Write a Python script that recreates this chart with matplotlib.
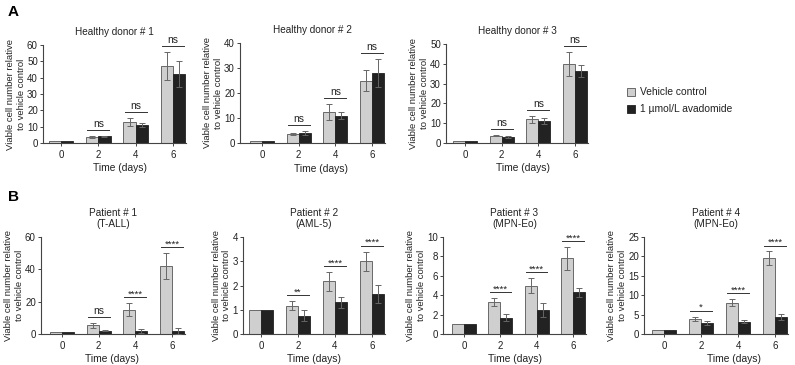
import matplotlib
matplotlib.use("Agg")
import matplotlib.pyplot as plt
import numpy as np

plt.rcParams['font.family'] = ['Liberation Sans', 'DejaVu Sans']

days = ["0", "2", "4", "6"]
titles = ["Healthy donor # 1", "Healthy donor # 2", "Healthy donor # 3",
          "Patient # 1\n(T-ALL)", "Patient # 2\n(AML-5)", "Patient # 3\n(MPN-Eo)", "Patient # 4\n(MPN-Eo)"]
y_max = [60, 40, 50, 60, 4, 10, 25]
y_step = [10, 10, 10, 20, 1, 2, 5]

veh = [[1, 3.5, 13, 47], [1, 3.7, 12.5, 25], [1, 3.7, 12, 40],
       [1, 5.5, 15, 42], [1, 1.17, 2.17, 3.0], [1, 3.3, 5.0, 7.8], [1, 3.9, 8.1, 19.6]]
veh_err = [[0, 0.5, 2.5, 8.5], [0, 0.5, 3.2, 4.2], [0, 0.3, 1.8, 6.2],
           [0, 1.5, 4.0, 8.0], [0, 0.2, 0.38, 0.4], [0, 0.38, 0.75, 1.2], [0, 0.6, 0.9, 1.7]]
ava = [[1, 4, 11, 42], [1, 3.9, 11, 28], [1, 3.0, 11, 36.5],
       [1, 2.0, 1.8, 2.0], [1, 0.75, 1.3, 1.65], [1, 1.7, 2.45, 4.3], [1, 2.8, 3.2, 4.4]]
ava_err = [[0, 0.5, 1.5, 8], [0, 0.8, 1.3, 5.5], [0, 0.3, 1.5, 3.0],
           [0, 0.3, 1.2, 1.7], [0, 0.22, 0.23, 0.37], [0, 0.35, 0.7, 0.45], [0, 0.6, 0.4, 0.8]]
sig = [["ns", "ns", "ns"], ["ns", "ns", "ns"], ["ns", "ns", "ns"],
       ["ns", "****", "****"], ["**", "****", "****"], ["****", "****", "****"], ["*", "****", "****"]]
legend_labels = ["Vehicle control", "1 \u00b5mol/L avadomide"]

W, H = 795, 365
fig = plt.figure(figsize=(W / 100, H / 100), dpi=100)

# pixel layout: (y-axis x, tick0 x, tick6 x, right end x, y0 px, ytop px, xlabel center x)
layout = [(43, 61, 173, 186, 143, 45, 120), (240, 262, 372, 385, 143, 43, 321),
          (446, 465, 575, 588, 143, 44, 523),
          (41, 62, 172, 185, 334, 237, 112), (243, 261, 372, 385, 334, 237, 314),
          (443, 464, 573, 586, 334, 237, 515), (644, 664, 775, 788, 334, 237, 734)]

c_light = "#cfcfcf"
c_dark = "#222222"
c_edge = "#555555"
fs = 6.8
bw = 0.33
axes = []

for i in range(7):
    yax, t0, t6, rx, y0, yt, xlx = layout[i]
    s = (t6 - t0) / 3.0
    xlo = -(t0 - yax) / s
    xhi = 3 + (rx - t6) / s
    ax = fig.add_axes([yax / W, 1 - y0 / H, (rx - yax) / W, (y0 - yt) / H])
    axes.append(ax)
    x = np.arange(4)
    ax.bar(x - bw / 2, veh[i], bw, color=c_light, edgecolor=c_edge, linewidth=0.6, zorder=2)
    ax.bar(x + bw / 2, ava[i], bw, color=c_dark, edgecolor=c_dark, linewidth=0.6, zorder=2)
    ve = np.array(veh_err[i]); ae = np.array(ava_err[i])
    m = ve > 0
    ax.errorbar((x - bw / 2)[m], np.array(veh[i])[m], yerr=ve[m], fmt='none', ecolor="#666666",
                elinewidth=0.7, capsize=2.5, capthick=0.7, zorder=3)
    m = ae > 0
    ax.errorbar((x + bw / 2)[m], np.array(ava[i])[m], yerr=ae[m], fmt='none', ecolor="#666666",
                elinewidth=0.7, capsize=2.5, capthick=0.7, zorder=3)
    ax.set_xlim(xlo, xhi)
    ax.set_ylim(0, y_max[i])
    ax.set_yticks(np.arange(0, y_max[i] + 1e-9, y_step[i]))
    ax.set_xticks(x)
    ax.set_xticklabels(days)
    for sp in ["top", "right"]:
        ax.spines[sp].set_visible(False)
    for sp in ["left", "bottom"]:
        ax.spines[sp].set_color("#444444")
        ax.spines[sp].set_linewidth(0.8)
    ax.tick_params(axis='both', labelsize=fs + 0.2, length=2.2, width=0.7, color="#444444",
                   pad=1.5, labelcolor="#222222")
    ax.tick_params(axis='x', pad=2.5)
    ax.set_xlabel("Time (days)", fontsize=fs + 0.6, color="#222222")
    ax.xaxis.set_label_coords((xlx - yax) / (rx - yax), -0.205)
    ax.set_ylabel("Viable cell number relative\nto vehicle control", fontsize=fs,
                  color="#222222", linespacing=1.25)
    ax.set_title(titles[i], fontsize=fs + 0.4, pad=7, color="#222222", linespacing=1.1)
    # significance
    for j in range(1, 4):
        top = max(veh[i][j] + veh_err[i][j], ava[i][j] + ava_err[i][j])
        ly = top + 0.06 * y_max[i]
        ax.plot([j - bw * 0.9, j + bw * 0.9], [ly, ly], color="#333333", lw=0.7, clip_on=False)
        lab = sig[i][j - 1]
        if lab == "ns":
            ax.text(j, ly + 0.01 * y_max[i], lab, ha="center", va="bottom", fontsize=fs + 0.6,
                    color="#222222", clip_on=False)
        else:
            ax.text(j, ly - 0.015 * y_max[i], lab, ha="center", va="bottom", fontsize=fs,
                    color="#222222", clip_on=False)

# place y labels just left of the tick labels
fig.canvas.draw()
r = fig.canvas.get_renderer()
for i, ax in enumerate(axes):
    left = min(t.get_window_extent(r).x0 for t in ax.get_yticklabels())
    bb = ax.get_window_extent(r)
    ax.yaxis.set_label_coords((left - 1.0 - bb.x0) / bb.width, 0.5)

fig.text(8 / W, 1 - 12 / H, "A", fontsize=11, fontweight="bold", va="center", ha="left")
fig.text(8 / W, 1 - 197 / H, "B", fontsize=11, fontweight="bold", va="center", ha="left")

# legend
for k, (lab, col) in enumerate(zip(legend_labels, [c_light, c_dark])):
    yy = 92 + 17 * k
    fig.patches.append(plt.Rectangle((627 / W, 1 - (yy + 4) / H), 8 / W, 8 / H,
                                     transform=fig.transFigure, facecolor=col,
                                     edgecolor=c_edge if k == 0 else c_dark, linewidth=0.6))
    fig.text(640 / W, 1 - yy / H, lab, fontsize=fs + 0.6, va="center", ha="left", color="#222222")

fig.savefig("out.png", dpi=100)
